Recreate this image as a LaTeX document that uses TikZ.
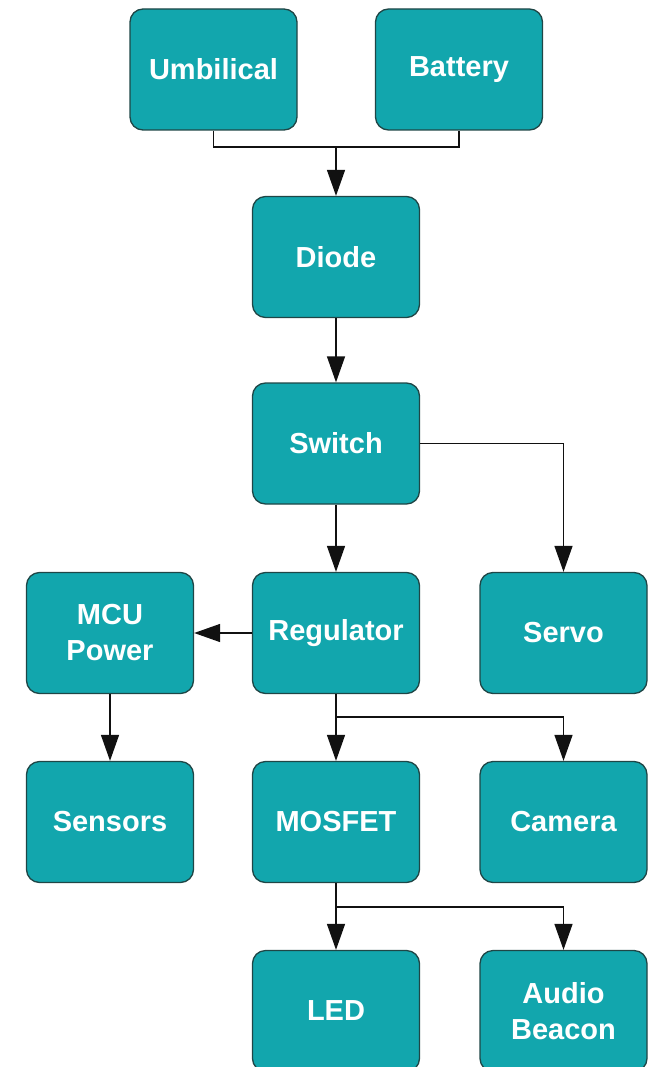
\documentclass[tikz,border=0pt]{standalone}
\usepackage{fontspec}
\setmainfont{Liberation Sans}
\usetikzlibrary{arrows.meta}
\definecolor{boxfill}{HTML}{12A6AD}
\definecolor{boxedge}{HTML}{1F4646}
\definecolor{linec}{HTML}{111111}
\tikzset{
  blk/.style={draw=boxedge, line width=1.3pt, fill=boxfill, rounded corners=13pt,
    minimum width=167pt, minimum height=121pt, inner sep=0pt,
    text=white, font=\fontsize{29}{36}\selectfont\bfseries, align=center},
  arr/.style={draw=linec, line width=1.4pt, -{Triangle[length=26pt,width=18pt]}},
  ln/.style={draw=linec, line width=1.4pt}
}
\begin{document}
\begin{tikzpicture}[x=1pt,y=-1pt]
\useasboundingbox (0,0) rectangle (649,1067);
\node[blk] (umb) at (213.5,69.5) {Umbilical};
\node[blk] (bat) at (459,69.5) {Battery};
\node[blk] (dio) at (336,257) {Diode};
\node[blk] (sw) at (336,443.5) {Switch};
\node[blk] (mcu) at (110,633) {MCU\\Power};
\node[blk] (reg) at (336,633) {Regulator};
\node[blk] (srv) at (563.5,633) {Servo};
\node[blk] (sen) at (110,822) {Sensors};
\node[blk] (mos) at (336,822) {MOSFET};
\node[blk] (cam) at (563.5,822) {Camera};
\node[blk] (led) at (336,1011) {LED};
\node[blk] (aud) at (563.5,1011) {Audio\\Beacon};
\coordinate (j1) at (336,147);
\coordinate (j2) at (336,717);
\coordinate (j3) at (336,907);
\draw[ln] (umb.south) |- (j1) -| (bat.south);
\draw[arr] (j1) -- (dio.north);
\draw[arr] (dio.south) -- (sw.north);
\draw[arr] (sw.south) -- (reg.north);
\draw[arr] (sw.east) -| (srv.north);
\draw[arr] (reg.west) -- (mcu.east);
\draw[arr] (mcu.south) -- (sen.north);
\draw[arr] (reg.south) -- (mos.north);
\draw[arr] (j2) -| (cam.north);
\draw[arr] (mos.south) -- (led.north);
\draw[arr] (j3) -| (aud.north);
\end{tikzpicture}
\end{document}
